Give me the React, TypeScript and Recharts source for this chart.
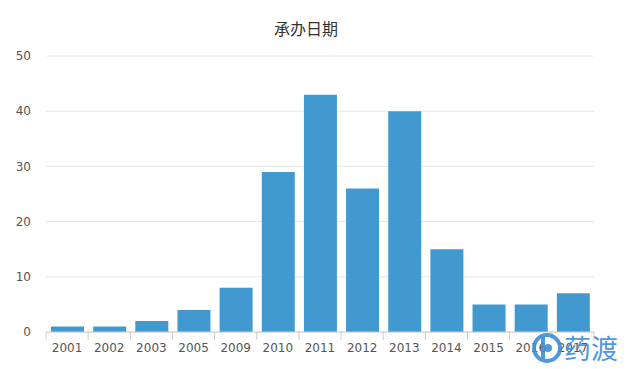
import React from 'react';
import { BarChart, Bar, XAxis, YAxis, CartesianGrid } from 'recharts';

const years = ['2001', '2002', '2003', '2005', '2009', '2010', '2011', '2012', '2013', '2014', '2015', '2016', '2017'];
const counts = [1, 1, 2, 4, 8, 29, 43, 26, 40, 15, 5, 5, 7];
const yTicks = [0, 10, 20, 30, 40, 50];

const data = years.map((y, i) => ({ year: y, count: counts[i] }));

const W = 626;
const H = 369;
const LEFT = 46;
const RIGHT_M = 32;
const BAND = (W - LEFT - RIGHT_M) / years.length;

const XTick = (props: any) => {
  const { x, y, payload, index } = props;
  const axisY = y - 8;
  const left = x - BAND / 2;
  const right = x + BAND / 2;
  return (
    <g>
      <line x1={left} x2={left} y1={axisY} y2={axisY + 8} stroke="#ccc" />
      {index === years.length - 1 && (
        <line x1={right} x2={right} y1={axisY} y2={axisY + 8} stroke="#ccc" />
      )}
      <text x={x} y={y + 3} dy="0.71em" textAnchor="middle" fill="#555" fontSize={12} fontFamily="DejaVu Sans">
        {payload.value}
      </text>
    </g>
  );
};

export default function App() {
  return (
    <div style={{ position: 'absolute', left: 0, top: 0, width: W, height: H, background: '#fff' }}>
      <div
        style={{
          position: 'absolute',
          left: 0,
          top: 18,
          width: 612,
          textAlign: 'center',
          fontSize: 16,
          color: '#333',
          fontFamily: '"Noto Sans CJK SC", sans-serif',
          lineHeight: '20px',
        }}
      >
        承办日期
      </div>
      <BarChart width={W} height={H} data={data} margin={{ top: 56, right: RIGHT_M, bottom: 0, left: 0 }}>
        <CartesianGrid vertical={false} stroke="#e6e6e6" />
        <YAxis
          width={LEFT}
          domain={[0, 50]}
          ticks={yTicks}
          axisLine={false}
          tickLine={false}
          tickSize={6}
          tickMargin={9}
          tick={{ fill: '#555', fontSize: 12, fontFamily: 'DejaVu Sans' }}
          interval={0}
        />
        <XAxis
          dataKey="year"
          height={37}
          axisLine={{ stroke: '#ccc' }}
          tickLine={false}
          tick={<XTick />}
          interval={0}
        />
        <Bar dataKey="count" fill="#4299cf" barSize={33} isAnimationActive={false} />
      </BarChart>
      <div
        style={{
          position: 'absolute',
          left: 530,
          top: 331,
          display: 'flex',
          alignItems: 'center',
          color: '#3d8fd8',
          opacity: 0.9,
          fontFamily: '"Noto Sans CJK SC", sans-serif',
          fontSize: 27,
          lineHeight: '34px',
        }}
      >
        <svg width={34} height={34}>
          <circle cx={17} cy={17} r={13} fill="none" stroke="#3d8fd8" strokeWidth={4} />
          <rect x={11} y={6} width={4} height={22} fill="#3d8fd8" />
          <circle cx={18} cy={17} r={4} fill="#3d8fd8" />
        </svg>
        <span>药渡</span>
      </div>
    </div>
  );
}
